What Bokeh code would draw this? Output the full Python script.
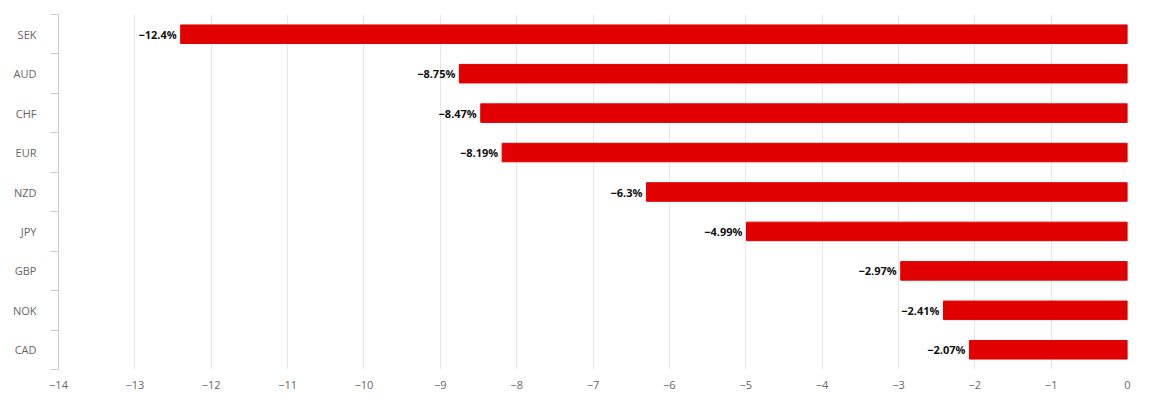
from bokeh.plotting import figure
from bokeh.models import ColumnDataSource, FixedTicker, Range1d, LabelSet
from bokeh.core.properties import value
from bokeh.embed import file_html
from bokeh.resources import INLINE

currencies = ["SEK", "AUD", "CHF", "EUR", "NZD", "JPY", "GBP", "NOK", "CAD"]
changes = [-12.4, -8.75, -8.47, -8.19, -6.3, -4.99, -2.97, -2.41, -2.07]
labels = ["\u221212.4%", "\u22128.75%", "\u22128.47%", "\u22128.19%", "\u22126.3%",
          "\u22124.99%", "\u22122.97%", "\u22122.41%", "\u22122.07%"]

n = len(currencies)
ypos = [n - i - 0.5 for i in range(n)]
src = ColumnDataSource(dict(y=ypos, v=changes, lab=labels))

p = figure(width=1138, height=397, output_backend="svg", toolbar_location=None,
           x_range=Range1d(-14, 0), y_range=Range1d(0, n),
           min_border_left=58, min_border_right=11, min_border_top=14, min_border_bottom=28)
p.outline_line_color = None
p.hbar(y="y", left=0, right="v", height=0.47, source=src, color="#e00000")
p.add_layout(LabelSet(x="v", y="y", text="lab", source=src, x_offset=-4,
                      text_align="right", text_baseline="middle",
                      text_font=value("Open Sans"), text_font_style="bold",
                      text_font_size="11px", text_color="#111111"))

p.xaxis.ticker = FixedTicker(ticks=list(range(-14, 1)))
p.xaxis.major_label_overrides = {t: ("\u2212%d" % -t if t < 0 else "0") for t in range(-14, 1)}
p.xaxis.axis_line_color = None
p.xaxis.major_tick_line_color = None
p.xaxis.minor_tick_line_color = None
p.xaxis.major_label_text_font = "Open Sans"
p.xaxis.major_label_text_font_size = "11px"
p.xaxis.major_label_text_color = "#666666"

p.yaxis.ticker = FixedTicker(ticks=ypos, minor_ticks=list(range(0, n + 1)))
p.yaxis.major_label_overrides = {y: c for y, c in zip(ypos, currencies)}
p.yaxis.axis_line_color = "#cccccc"
p.yaxis.major_tick_line_color = None
p.yaxis.minor_tick_line_color = "#cccccc"
p.yaxis.minor_tick_out = 8
p.yaxis.minor_tick_in = 0
p.yaxis.major_label_standoff = 14
p.yaxis.major_label_text_font = "Open Sans"
p.yaxis.major_label_text_font_size = "11px"
p.yaxis.major_label_text_color = "#666666"

p.xgrid.grid_line_color = "#e6e6e6"
p.ygrid.grid_line_color = None

open("out.html", "w").write(file_html(p, INLINE))
